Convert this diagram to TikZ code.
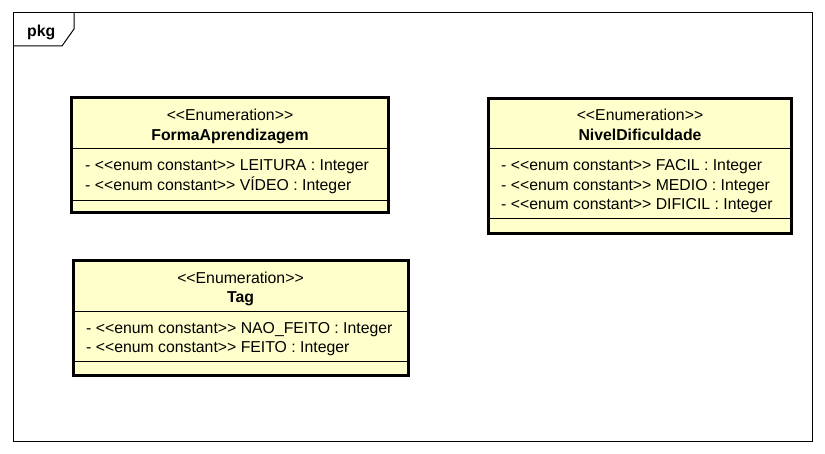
\documentclass[tikz,border=0pt]{standalone}
\usepackage{fontspec}
\setmainfont{Liberation Sans}[Ligatures=TeXOff]
\usepackage{xcolor}
\usetikzlibrary{positioning}
\definecolor{enumfill}{RGB}{255,255,204}

\begin{document}
\begin{tikzpicture}[x=1pt, y=-1pt, font=\fontsize{15.8}{19}\selectfont,
		enumbox/.style={fill=enumfill, draw=black, line width=3pt},
		sepline/.style={draw=black, line width=0.9pt},
		attr/.style={anchor=base west, inner sep=0pt},
		title/.style={anchor=base, inner sep=0pt}]
			\useasboundingbox (0,0) rectangle (825,454);
			% package frame
			\draw [line width=1pt] (13,13) rectangle (812,441);
			\draw [line width=1pt] (13,46) -- (62,46) -- (74,29) -- (74,13);
			\node [anchor=base west, inner sep=0pt, font=\fontsize{15.8}{19}\selectfont\bfseries] (pkg) at (27,36.5) {pkg};
			% FormaAprendizagem
			\draw [enumbox] (71.5,98) rectangle (388.5,212.5);
			\draw [sepline] (71.5,148) -- (388.5,148);
			\draw [sepline] (71.5,200) -- (388.5,200);
			\node [title] (formaStereo) at (230,121) {<<Enumeration>>};
			\node [title, font=\fontsize{15.8}{19}\selectfont\bfseries] (formaName) at (230,140.5) {FormaAprendizagem};
			\node [attr] (formaLeitura) at (85,171) {- <<enum constant>> LEITURA : Integer};
			\node [attr] (formaVideo) at (85,190.5) {- <<enum constant>> VÍDEO : Integer};
			% NivelDificuldade
			\draw [enumbox] (488.5,98.5) rectangle (791.5,233.5);
			\draw [sepline] (488.5,148) -- (791.5,148);
			\draw [sepline] (488.5,218.5) -- (791.5,218.5);
			\node [title] (nivelStereo) at (640,121) {<<Enumeration>>};
			\node [title, font=\fontsize{15.8}{19}\selectfont\bfseries] (nivelName) at (640,140.5) {NivelDificuldade};
			\node [attr] (nivelFacil) at (501,171) {- <<enum constant>> FACIL : Integer};
			\node [attr] (nivelMedio) at (501,190.5) {- <<enum constant>> MEDIO : Integer};
			\node [attr] (nivelDificil) at (501,210) {- <<enum constant>> DIFICIL : Integer};
			% Tag
			\draw [enumbox] (73,261) rectangle (408.5,376);
			\draw [sepline] (73,311) -- (408.5,311);
			\draw [sepline] (73,361.5) -- (408.5,361.5);
			\node [title] (tagStereo) at (240.5,283.5) {<<Enumeration>>};
			\node [title, font=\fontsize{15.8}{19}\selectfont\bfseries] (tagName) at (240.5,303) {Tag};
			\node [attr] (tagNaoFeito) at (86,333.5) {- <<enum constant>> NAO\_FEITO : Integer};
			\node [attr] (tagFeito) at (86,353) {- <<enum constant>> FEITO : Integer};
		\end{tikzpicture}
\end{document}
